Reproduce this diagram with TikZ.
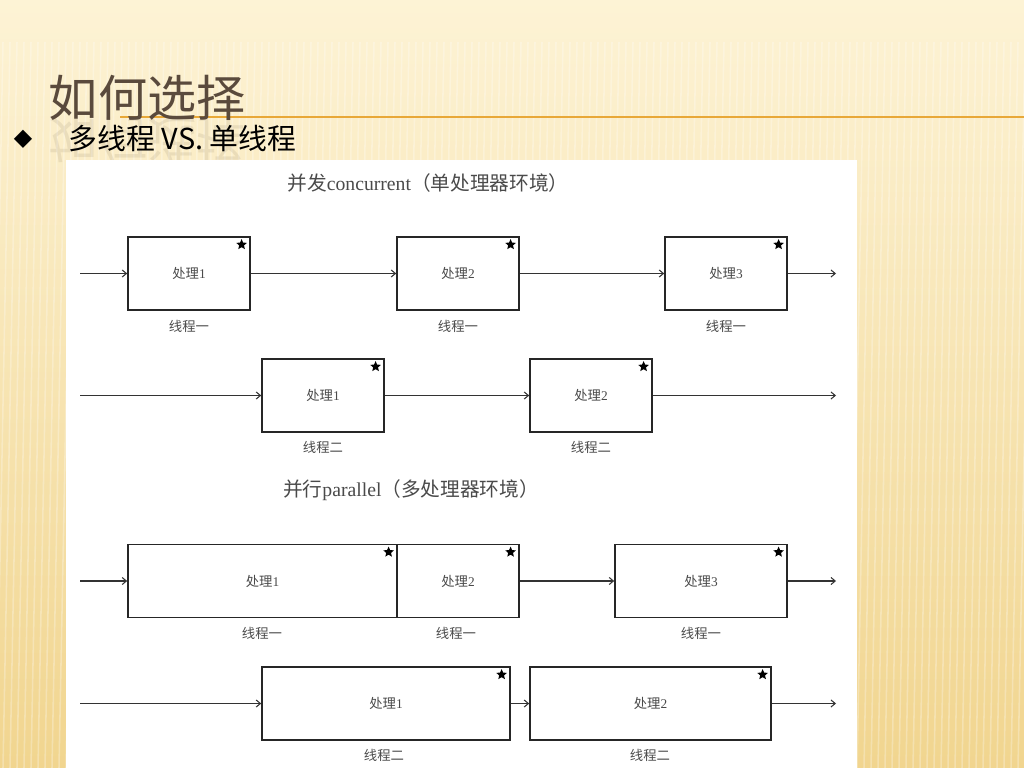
\documentclass[tikz,border=0pt]{standalone}
\usepackage{fontspec}
\setmainfont{Liberation Serif}
\newfontfamily\cjk{Noto Sans CJK SC}
\newfontfamily\symb{DejaVu Sans}
\usetikzlibrary{arrows.meta,shapes.geometric}

\definecolor{bgtop}{HTML}{FDF3D5}
\definecolor{bgmid}{HTML}{FAE8B6}
\definecolor{bgbot}{HTML}{F1D58F}
\definecolor{titlebrown}{HTML}{5A4A3C}
\definecolor{rule}{HTML}{E8A838}
\definecolor{diagtext}{HTML}{4A4A4A}

\tikzset{
  box/.style={draw=black!85, line width=1.1pt, minimum width=#1, minimum height=1.825cm,
    inner sep=0pt, font=\fontsize{9.5}{11}\selectfont, text=diagtext},
  box/.default=3.05cm,
  thread/.style={font=\cjk\fontsize{9.5}{11}\selectfont, text=diagtext},
  heading/.style={font=\fontsize{14}{16}\selectfont, text=diagtext},
  starmark/.style={star, star points=5, star point ratio=2.2, fill=black, draw=none,
    minimum size=0.28cm, inner sep=0pt},
  stripe/.style={white, opacity=0.28, line width=1.1pt}
}

\begin{document}
\begin{tikzpicture}[x=0.025cm, y=-0.025cm]
  \useasboundingbox (0,0) rectangle (1024,768);
  % slide background
  \shade[top color=bgtop, middle color=bgmid, bottom color=bgbot] (0,0) rectangle (1024,768);
  \begin{scope}
    \clip (0,42) rectangle (1024,768);
    \foreach \i in {-60,-53,...,1030}
      \draw[stripe] (\i+14,42) -- (\i,768);
  \end{scope}
  \draw[rule, line width=1.1pt] (120,117) -- (1024,117);

  % title and bullet
  \node[anchor=west, text=titlebrown, font=\cjk\fontsize{35}{38}\selectfont] (title) at (44,98) {如何选择};
  \node[anchor=west, text=titlebrown, opacity=0.1, yscale=-1, font=\cjk\fontsize{35}{38}\selectfont] (title-ref) at (44,140) {如何选择};
  \node[font=\symb\fontsize{17}{20}\selectfont] (bullet) at (23,139) {◆};
  \node[anchor=west, font=\cjk\fontsize{20.5}{24}\selectfont] (subtitle) at (64,139) {多线程 VS. 单线程};

  % white panel
  \fill[white] (66,160) rectangle (857,768);

  \node[heading] (conc) at (428,183) {{\cjk 并发}concurrent{\cjk （单处理器环境）}};
  \node[heading] (para) at (411,490) {{\cjk 并行}parallel{\cjk （多处理器环境）}};

  % concurrent, thread one and two
  \draw
    (189,273.5) node[box] (a1) {{\cjk 处理}1}
    (458,273.5) node[box] (a2) {{\cjk 处理}2}
    (726,273.5) node[box] (a3) {{\cjk 处理}3}
    (323,395.5) node[box] (b1) {{\cjk 处理}1}
    (591,395.5) node[box] (b2) {{\cjk 处理}2};
  \draw
    (189,326) node[thread] (a1-t) {线程一}
    (458,326) node[thread] (a2-t) {线程一}
    (726,326) node[thread] (a3-t) {线程一}
    (323,447) node[thread] (b1-t) {线程二}
    (591,447) node[thread] (b2-t) {线程二};

  % parallel, thread one and two
  \draw
    (262.5,581) node[box=6.725cm] (c1) {{\cjk 处理}1}
    (458,581) node[box] (c2) {{\cjk 处理}2}
    (701,581) node[box=4.3cm] (c3) {{\cjk 处理}3}
    (386,703.5) node[box=6.2cm] (d1) {{\cjk 处理}1}
    (650.5,703.5) node[box=6.025cm] (d2) {{\cjk 处理}2};
  \draw
    (262,633) node[thread] (c1-t) {线程一}
    (456,633) node[thread] (c2-t) {线程一}
    (701,633) node[thread] (c3-t) {线程一}
    (384,755) node[thread] (d1-t) {线程二}
    (650,755) node[thread] (d2-t) {线程二};

  \foreach \b in {a1,a2,a3,b1,b2,c1,c2,c3,d1,d2}
    \node[starmark] (\b-star) at ([xshift=-0.23cm, yshift=-0.21cm]\b.north east) {};

  \coordinate (a-in) at (80,273.5);
  \coordinate (a-out) at (836,273.5);
  \coordinate (b-in) at (80,395.5);
  \coordinate (b-out) at (836,395.5);
  \coordinate (c-in) at (80,581);
  \coordinate (c-out) at (836,581);
  \coordinate (d-in) at (80,703.5);
  \coordinate (d-out) at (836,703.5);

  \begin{scope}[-{Straight Barb[length=3pt,width=5pt]}, black!80, line width=0.75pt]
    \draw (a-in) to (a1);
    \draw (a1) to (a2);
    \draw (a2) to (a3);
    \draw (a3) to (a-out);
    \draw (b-in) to (b1);
    \draw (b1) to (b2);
    \draw (b2) to (b-out);
    \draw (c-in) to (c1);
    \draw (c2) to (c3);
    \draw (c3) to (c-out);
    \draw (d-in) to (d1);
    \draw (d1) to (d2);
    \draw (d2) to (d-out);
  \end{scope}
\end{tikzpicture}
\end{document}
